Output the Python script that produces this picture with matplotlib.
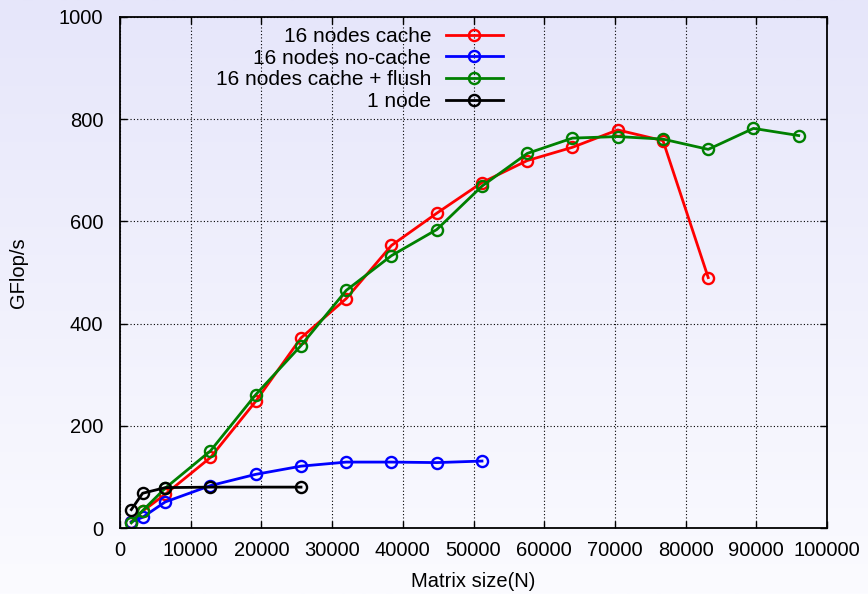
import numpy as np
import matplotlib
matplotlib.use("Agg")
import matplotlib.pyplot as plt
from matplotlib.colors import LinearSegmentedColormap

plt.rcParams['font.family'] = ['Liberation Sans', 'DejaVu Sans']

# Data
x_cache = [1600, 3200, 6400, 12800, 19200, 25600, 32000, 38400, 44800, 51200,
           57600, 64000, 70400, 76800, 83200]
y_cache = [12, 33, 66, 138, 248, 372, 449, 553, 616, 676, 719, 745, 779, 758, 490]

x_nocache = [1600, 3200, 6400, 12800, 19200, 25600, 32000, 38400, 44800, 51200]
y_nocache = [12, 21, 51, 83, 105, 121, 129, 129, 128, 131]

x_flush = [1600, 3200, 6400, 12800, 19200, 25600, 32000, 38400, 44800, 51200,
           57600, 64000, 70400, 76800, 83200, 89600, 96000]
y_flush = [10, 34, 78, 151, 261, 357, 465, 533, 584, 669, 733, 763, 766, 761, 741, 782, 768]

x_one = [1600, 3200, 6400, 12800, 25600]
y_one = [36, 68, 79, 80, 80]

labels = ["16 nodes cache", "16 nodes no-cache", "16 nodes cache + flush", "1 node"]
colors = ["#ff0000", "#0000ff", "#008000", "#000000"]

xticks = list(range(0, 100001, 10000))
yticks = list(range(0, 1001, 200))

fig = plt.figure(figsize=(8.68, 5.94), dpi=100)

# Background gradient
bg = fig.add_axes([0, 0, 1, 1], zorder=-10)
grad = np.linspace(0, 1, 256).reshape(-1, 1)
cmap = LinearSegmentedColormap.from_list("bg", ["#e6e6fa", "#fbfbff"])
bg.imshow(grad, aspect="auto", cmap=cmap, extent=[0, 1, 0, 1], origin="upper")
bg.axis("off")

ax = fig.add_axes([120/868, 1 - 528/594, (827 - 120)/868, (528 - 17)/594])
ax.set_facecolor("none")

series = [(x_cache, y_cache), (x_nocache, y_nocache), (x_flush, y_flush), (x_one, y_one)]
for (xs, ys), lab, c in zip(series, labels, colors):
    ax.plot(xs, ys, color=c, lw=2, marker="o", ms=8, mfc="none", mec=c,
            mew=1.7, label=lab)

ax.set_xlim(0, 100000)
ax.set_ylim(0, 1000)
ax.set_xticks(xticks)
ax.set_yticks(yticks)
ax.set_xticklabels([str(v) for v in xticks], fontsize=14.5)
ax.set_yticklabels([str(v) for v in yticks], fontsize=14.5)
ax.tick_params(direction="in", length=5, width=1, top=True, right=True,
               pad=9)
ax.tick_params(axis="y", pad=12)
ax.grid(True, linestyle=(0, (1, 2)), color="black", lw=0.8)
for s in ax.spines.values():
    s.set_linewidth(1.3)

ax.set_xlabel("Matrix size(N)", fontsize=14.5, labelpad=9)
ax.set_ylabel("GFlop/s", fontsize=14.5, labelpad=22)

leg = ax.legend(loc="upper right", bbox_to_anchor=(503/868, 1 - 27/594),
                bbox_transform=fig.transFigure, markerfirst=False,
                frameon=False, fontsize=15, handlelength=2.75,
                labelspacing=0.13, handletextpad=0.7, borderpad=0,
                borderaxespad=0)

fig.savefig("out.png", dpi=100)
